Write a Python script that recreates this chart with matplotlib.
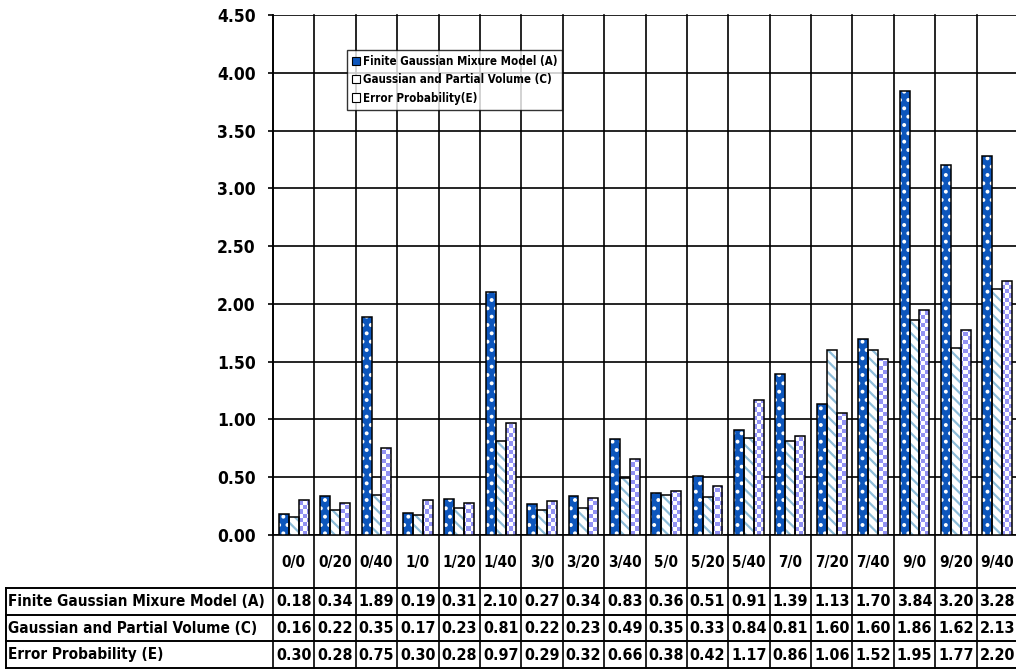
import numpy as np
import matplotlib
matplotlib.use("Agg")
import matplotlib.pyplot as plt
from matplotlib import transforms, font_manager
from matplotlib.lines import Line2D
from matplotlib.patches import Patch
from matplotlib.colors import ListedColormap

categories = ["0/0", "0/20", "0/40", "1/0", "1/20", "1/40", "3/0", "3/20", "3/40",
              "5/0", "5/20", "5/40", "7/0", "7/20", "7/40", "9/0", "9/20", "9/40"]
series_names = ["Finite Gaussian Mixure Model (A)",
                "Gaussian and Partial Volume (C)",
                "Error Probability (E)"]
legend_labels = ["Finite Gaussian Mixure Model (A)",
                 "Gaussian and Partial Volume (C)",
                 "Error Probability(E)"]
model_a = [0.18, 0.34, 1.89, 0.19, 0.31, 2.10, 0.27, 0.34, 0.83,
           0.36, 0.51, 0.91, 1.39, 1.13, 1.70, 3.84, 3.20, 3.28]
model_c = [0.16, 0.22, 0.35, 0.17, 0.23, 0.81, 0.22, 0.23, 0.49,
           0.35, 0.33, 0.84, 0.81, 1.60, 1.60, 1.86, 1.62, 2.13]
model_e = [0.30, 0.28, 0.75, 0.30, 0.28, 0.97, 0.29, 0.32, 0.66,
           0.38, 0.42, 1.17, 0.86, 1.06, 1.52, 1.95, 1.77, 2.20]
y_ticks = [0.0, 0.5, 1.0, 1.5, 2.0, 2.5, 3.0, 3.5, 4.0, 4.5]

# prefer a condensed bold face when one is installed
cond = font_manager.FontProperties(family="DejaVu Sans", stretch="condensed", weight="bold")
cond_file = font_manager.findfont(cond, fallback_to_default=True)
if "Condensed" in cond_file:
    FONT = ["DejaVu Sans"]
    STRETCH = "condensed"
    SCALE = 1.0
else:
    FONT = ["Liberation Sans", "DejaVu Sans"]
    STRETCH = "normal"
    SCALE = 0.95
plt.rcParams["font.family"] = FONT
plt.rcParams["font.weight"] = "bold"
plt.rcParams["font.stretch"] = STRETCH
plt.rcParams["hatch.linewidth"] = 1.6

W, H = 1016, 670
fig = plt.figure(figsize=(W / 100, H / 100), dpi=100)
fig.patch.set_facecolor("white")

# plot area in pixels
PL, PR, PT, PB = 273, 1018, 15, 535
ax = fig.add_axes([PL / W, (H - PB) / H, (PR - PL) / W, (PB - PT) / H])

def fy(py):
    return 1 - py / H

def fx(px):
    return px / W

n = len(categories)
x = np.arange(n)
bw = 0.24
blue = "#0d56bc"
stripe = "#8dbcd8"
lavender = "#9292f4"

ax.set_xlim(-0.5, n - 0.5)
ax.set_ylim(0, 4.5)
ax.set_axisbelow(True)

# series A: blue with small white dots
ax.bar(x - bw, model_a, bw, color=blue, edgecolor="white", hatch="..", linewidth=0, zorder=3)
ax.bar(x - bw, model_a, bw, fill=False, edgecolor="black", linewidth=1.1, zorder=4)

# series C: white with light diagonal stripes
ax.bar(x, model_c, bw, color="white", edgecolor=stripe, hatch="\\\\\\", linewidth=0, zorder=3)
ax.bar(x, model_c, bw, fill=False, edgecolor="black", linewidth=1.1, zorder=4)

# series E: lavender checkerboard texture clipped to each bar
e_bars = ax.bar(x + bw, model_e, bw, color="white", linewidth=0, zorder=3)
nx_cells, ny_cells = int((PR - PL) / 4.2), int((PB - PT) / 4.2)
checker = (np.add.outer(np.arange(ny_cells), np.arange(nx_cells)) % 2).astype(float)
cmap = ListedColormap(["white", lavender])
for patch in e_bars:
    im = ax.imshow(checker, extent=(-0.5, n - 0.5, 0, 4.5), aspect="auto",
                   interpolation="nearest", cmap=cmap, zorder=3.5, origin="lower")
    im.set_clip_path(patch)
ax.bar(x + bw, model_e, bw, fill=False, edgecolor="black", linewidth=1.1, zorder=4)

ax.set_xlim(-0.5, n - 0.5)
ax.set_ylim(0, 4.5)

# axes styling
ax.set_yticks(y_ticks)
ax.set_yticklabels([f"{v:.2f}" for v in y_ticks], fontsize=12.5 * SCALE, fontweight="bold")
ax.set_xticks([])
ax.tick_params(axis="y", direction="out", length=3.6, width=1.2, color="black", pad=9)
ax.yaxis.grid(True, color="black", linewidth=1.2)
for side in ["top", "right"]:
    ax.spines[side].set_visible(False)
ax.spines["left"].set_linewidth(1.2)
ax.spines["bottom"].set_linewidth(1.2)

# category boundary lines running through plot and data table
blend = transforms.blended_transform_factory(ax.transData, fig.transFigure)
for b in np.arange(-0.5, n + 0.5, 1.0):
    fig.add_artist(Line2D([b, b], [fy(PT), fy(668)], transform=blend,
                          color="black", linewidth=1.2, zorder=5))

# data table
row_lines = [588, 615, 641, 668]
for ry in row_lines:
    fig.add_artist(Line2D([fx(6), fx(PR)], [fy(ry), fy(ry)], transform=fig.transFigure,
                          color="black", linewidth=1.4, zorder=5))
fig.add_artist(Line2D([fx(6), fx(6)], [fy(588), fy(668)], transform=fig.transFigure,
                      color="black", linewidth=1.4, zorder=5))

for i, c in enumerate(categories):
    fig.text(i, fy(563), c, transform=blend, ha="center", va="center",
             fontsize=11 * SCALE, fontweight="bold")

rows = [model_a, model_c, model_e]
for r, (name, vals) in enumerate(zip(series_names, rows)):
    yc = fy((row_lines[r] + row_lines[r + 1]) / 2 + 0.5)
    fig.text(fx(8), yc, name, ha="left", va="center", fontsize=11 * SCALE,
             fontweight="bold")
    for i, v in enumerate(vals):
        fig.text(i, yc, f"{v:.2f}", transform=blend, ha="center", va="center",
                 fontsize=11.5 * SCALE, fontweight="bold")

# legend
handles = [
    Patch(facecolor=blue, edgecolor="black", linewidth=0.8),
    Patch(facecolor="white", edgecolor="black", linewidth=0.8),
    Patch(facecolor="white", edgecolor="black", linewidth=0.8),
]
leg = fig.legend(handles, legend_labels, loc="upper left",
                 bbox_to_anchor=(fx(347), fy(50)), bbox_transform=fig.transFigure,
                 fontsize=8.3 * SCALE, frameon=True, fancybox=False, borderpad=0.45,
                 handlelength=0.7, handleheight=0.7, handletextpad=0.2,
                 labelspacing=0.45, borderaxespad=0)
leg.get_frame().set_edgecolor("black")
leg.get_frame().set_linewidth(1.0)
for t in leg.get_texts():
    t.set_fontweight("bold")

fig.savefig("out.png", dpi=100, facecolor="white")
